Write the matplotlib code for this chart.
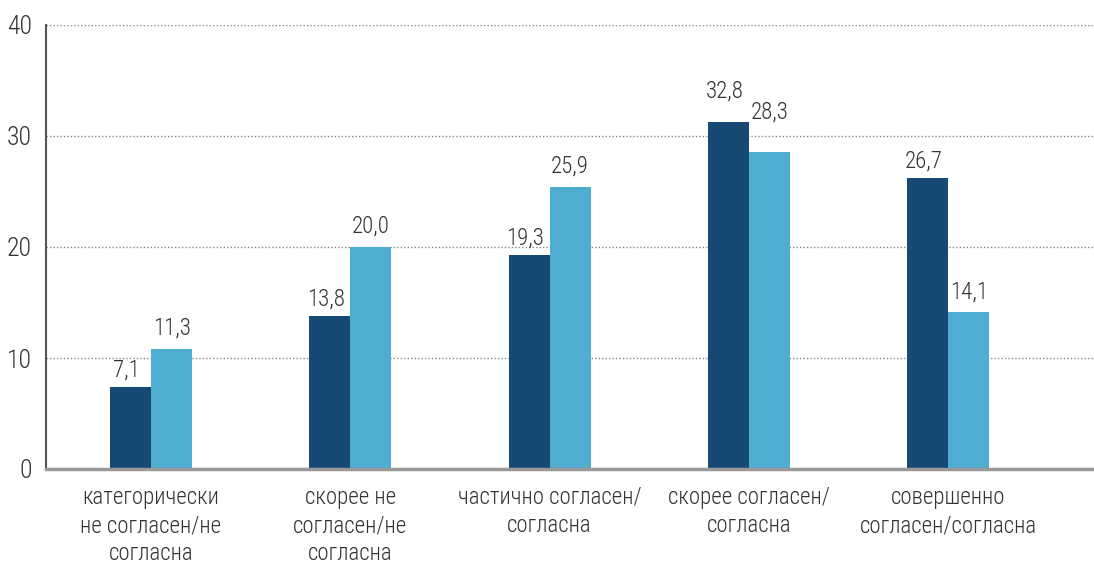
import matplotlib
matplotlib.use("Agg")
import matplotlib.pyplot as plt
import numpy as np

categories = ["категорически\nне согласен/не\nсогласна",
              "скорее не\nсогласен/не\nсогласна",
              "частично согласен/\nсогласна",
              "скорее согласен/\nсогласна",
              "совершенно\nсогласен/согласна"]
series_a = [7.4, 13.8, 19.3, 31.3, 26.2]
series_b = [10.8, 20.0, 25.4, 28.6, 14.1]
labels_a = ["7,1", "13,8", "19,3", "32,8", "26,7"]
labels_b = ["11,3", "20,0", "25,9", "28,3", "14,1"]
yticks = [0, 10, 20, 30, 40]

plt.rcParams['font.family'] = ['Roboto Condensed', 'Roboto', 'DejaVu Sans']
txt = "#333333"
c_a = "#164a75"
c_b = "#4fadd1"
fw = "light"

fig = plt.figure(figsize=(10.94, 5.65), dpi=100)
ax = fig.add_axes([46/1094, 1-469/565, (1094-46)/1094, (469-25)/565])

x = np.arange(len(categories))
w = 0.206
ba = ax.bar(x - w/2, series_a, w, color=c_a, zorder=3)
bb = ax.bar(x + w/2, series_b, w, color=c_b, zorder=3)

extra = [0, 0, 0, 14, 0]
for i, (r, lab) in enumerate(zip(ba, labels_a)):
    ax.annotate(lab, (r.get_x() + r.get_width()/2 - 0.02, r.get_height()),
                xytext=(0, 12 + extra[i]*0.72), textcoords="offset points",
                ha="center", va="center", fontsize=16.5, color=txt, fontweight=fw)
for i, (r, lab) in enumerate(zip(bb, labels_b)):
    ax.annotate(lab, (r.get_x() + r.get_width()/2, r.get_height()),
                xytext=(0, 15 + extra[i]*1.3*0.72), textcoords="offset points",
                ha="center", va="center", fontsize=16.5, color=txt, fontweight=fw)

x0 = (46 - 151) / 199.3
x1 = (1094 - 151) / 199.3
ax.set_xlim(x0, x1)
ax.set_ylim(0, 40)
ax.set_yticks(yticks)
ax.set_yticklabels([str(t) for t in yticks], fontsize=18.5, color=txt, fontweight=fw)
ax.set_xticks(x)
ax.set_xticklabels(categories, fontsize=16.5, color=txt, linespacing=1.3, fontweight=fw)
ax.tick_params(axis='y', length=0, pad=10)
ax.tick_params(axis='x', length=0, pad=12)

for t in yticks[1:]:
    ax.axhline(t, color="#888888", lw=1, ls=(0, (1, 1.5)), zorder=1)

for s in ["top", "right"]:
    ax.spines[s].set_visible(False)
ax.spines["left"].set_color("#555555")
ax.spines["left"].set_linewidth(1.5)
ax.spines["bottom"].set_color("#999999")
ax.spines["bottom"].set_linewidth(2.5)
ax.spines["bottom"].set_zorder(4)

fig.savefig("out.png", dpi=100)
